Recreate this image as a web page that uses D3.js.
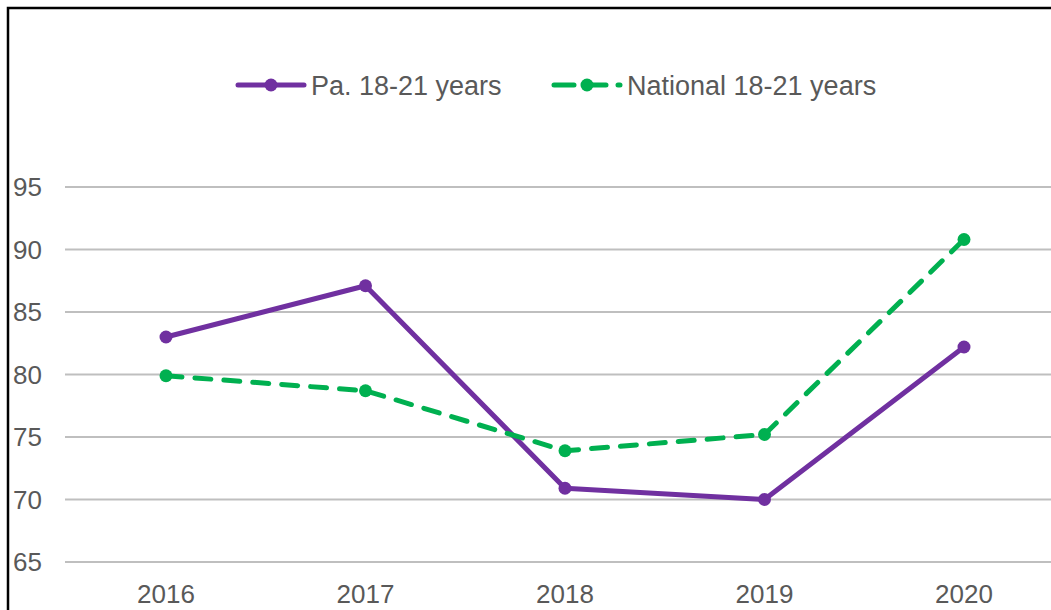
<!DOCTYPE html>
<html>
<head>
<meta charset="utf-8">
<script src="https://cdn.jsdelivr.net/npm/d3@7"></script>
<style>
  body { margin: 0; background: #fff; }
  text { font-family: "Liberation Sans", Arial, sans-serif; fill: #595959; }
</style>
</head>
<body>
<script>
const years = ["2016", "2017", "2018", "2019", "2020"];
const paValues = [83.0, 87.1, 70.9, 70.0, 82.2];
const nationalValues = [79.9, 78.7, 73.9, 75.2, 90.8];
const yTicks = [65, 70, 75, 80, 85, 90, 95];
const seriesNames = ["Pa. 18-21 years", "National 18-21 years"];

const w = 1051, h = 610;

const svg = d3.select("body")
  .append("svg")
  .attr("width", w)
  .attr("height", h);

// outer frame (chart is cropped on the right and bottom)
svg.append("rect")
  .attr("x", 8).attr("y", 8)
  .attr("width", 1100).attr("height", 700)
  .attr("fill", "none")
  .attr("stroke", "#000")
  .attr("stroke-width", 2.5);

const x = d3.scalePoint()
  .domain(years)
  .range([166, 964]);

const y = d3.scaleLinear()
  .domain([65, 95])
  .range([562, 187]);

// gridlines
svg.append("g")
  .selectAll("line")
  .data(yTicks)
  .enter()
  .append("line")
  .attr("x1", 65)
  .attr("x2", 1060)
  .attr("y1", d => y(d))
  .attr("y2", d => y(d))
  .attr("stroke", "#bfbfbf")
  .attr("stroke-width", 2);

// y tick labels
svg.append("g")
  .selectAll("text")
  .data(yTicks)
  .enter()
  .append("text")
  .attr("x", 42)
  .attr("y", d => y(d))
  .attr("dy", "0.36em")
  .attr("text-anchor", "end")
  .style("font-size", "26px")
  .text(d => d);

// x labels
svg.append("g")
  .selectAll("text")
  .data(years)
  .enter()
  .append("text")
  .attr("x", d => x(d))
  .attr("y", 603)
  .attr("text-anchor", "middle")
  .style("font-size", "26px")
  .text(d => d);

const line = d3.line()
  .x((d, i) => x(years[i]))
  .y(d => y(d));

const series = [
  { name: seriesNames[0], values: paValues, color: "#7030a0", dash: null },
  { name: seriesNames[1], values: nationalValues, color: "#00b050", dash: "16,13" }
];

series.forEach(s => {
  svg.append("path")
    .datum(s.values)
    .attr("d", line)
    .attr("fill", "none")
    .attr("stroke", s.color)
    .attr("stroke-width", 5)
    .attr("stroke-linecap", "round")
    .attr("stroke-linejoin", "round")
    .attr("stroke-dasharray", s.dash);

  svg.append("g")
    .selectAll("circle")
    .data(s.values)
    .enter()
    .append("circle")
    .attr("cx", (d, i) => x(years[i]))
    .attr("cy", d => y(d))
    .attr("r", 6.5)
    .attr("fill", s.color);
});

// legend
const legendX = [238, 554];
const legend = svg.append("g")
  .selectAll("g")
  .data(series)
  .enter()
  .append("g")
  .attr("transform", (d, i) => "translate(" + legendX[i] + ",85)");

legend.append("line")
  .attr("x1", 0).attr("x2", 66)
  .attr("stroke", d => d.color)
  .attr("stroke-width", 5)
  .attr("stroke-linecap", "round")
  .attr("stroke-dasharray", d => d.dash ? "20,12" : null);

legend.append("circle")
  .attr("cx", 33)
  .attr("r", 6.5)
  .attr("fill", d => d.color);

legend.append("text")
  .attr("x", 73)
  .attr("dy", "0.36em")
  .style("font-size", "27px")
  .text(d => d.name);
</script>
</body>
</html>
